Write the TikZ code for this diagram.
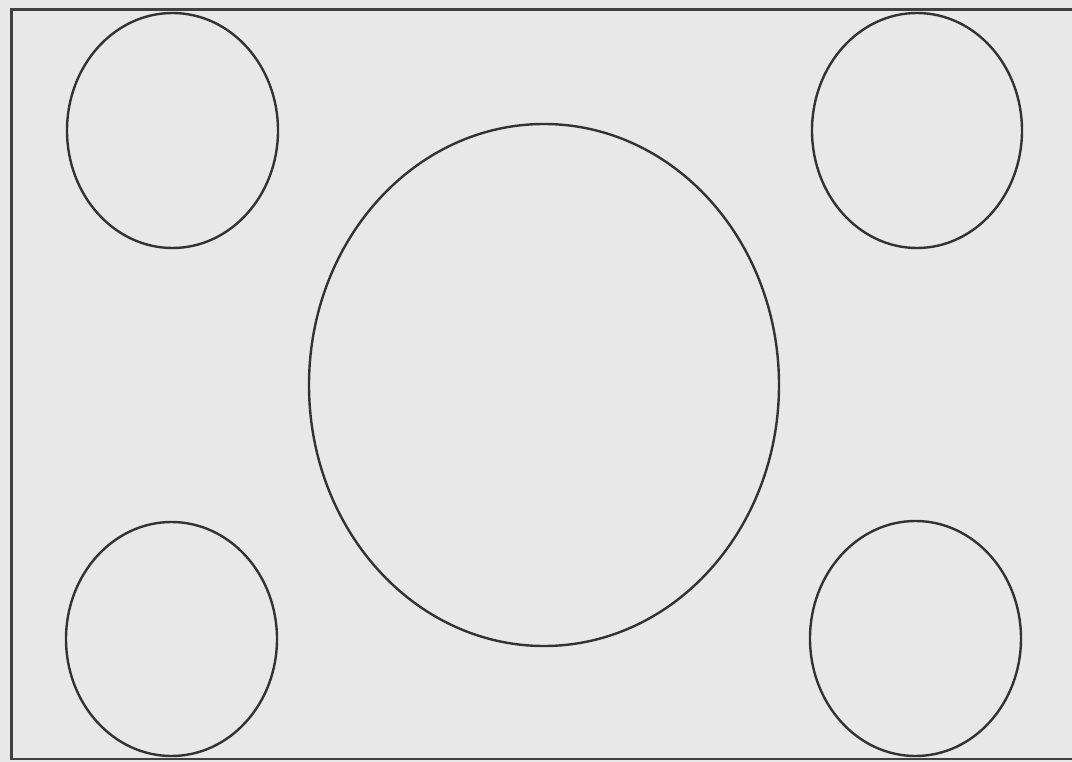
\documentclass[tikz,border=0pt]{standalone}
\begin{document}
\begin{tikzpicture}[x=1pt,y=-1pt,
  ring/.style={draw=black!80,line width=2.4pt}]
\fill[black!9] (0,0) rectangle (1072,762);
\useasboundingbox (0,0) rectangle (1072,762);
\draw[black!75,line width=2.6pt] (1080,9.5) -- (11.5,9.5) -- (11.5,759) -- (1080,759);
\draw[ring] (172.5,130.5) ellipse [x radius=105.5, y radius=117.5];
\draw[ring] (917,130.5) ellipse [x radius=105, y radius=117.5];
\draw[ring] (171.5,639) ellipse [x radius=105.5, y radius=117];
\draw[ring] (915.5,638.5) ellipse [x radius=105.5, y radius=117.5];
\draw[ring] (544,385) ellipse [x radius=235, y radius=261];
\end{tikzpicture}
\end{document}
